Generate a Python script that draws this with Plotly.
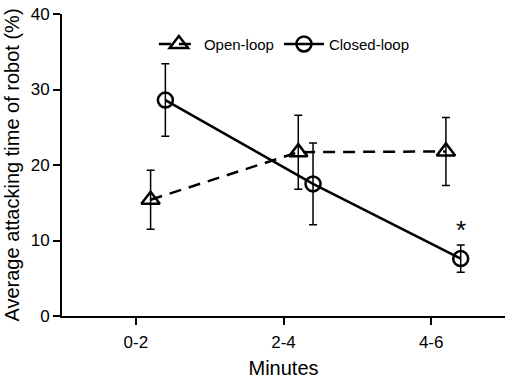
import plotly.graph_objects as go

categories = ["0-2", "2-4", "4-6"]
open_loop = [15.4, 21.7, 21.8]
open_err = [3.9, 4.9, 4.5]
closed_loop = [28.6, 17.5, 7.6]
closed_err = [4.8, 5.4, 1.8]
open_offset = 0.1
closed_offset = 0.2

xo = [i + open_offset for i in range(len(categories))]
xc = [i + closed_offset for i in range(len(categories))]

fig = go.Figure()
fig.add_trace(go.Scatter(
    x=xo, y=open_loop, name="Open-loop", mode="lines+markers",
    line=dict(color="black", width=2.5, dash="12px,8px"),
    marker=dict(symbol="triangle-up-open", size=16, color="black", line=dict(width=2.5)),
    error_y=dict(type="data", array=open_err, color="black", thickness=1.5, width=4),
))
fig.add_trace(go.Scatter(
    x=xc, y=closed_loop, name="Closed-loop", mode="lines+markers",
    line=dict(color="black", width=2.5),
    marker=dict(symbol="circle-open", size=15, color="black", line=dict(width=2.5)),
    error_y=dict(type="data", array=closed_err, color="black", thickness=1.5, width=4),
))
fig.add_annotation(x=xc[2], y=closed_loop[2] + closed_err[2] + 2.0, text="*", showarrow=False,
                   font=dict(size=26, color="black"))

fig.update_layout(
    width=510, height=381,
    margin=dict(l=62, r=5, t=12, b=65),
    plot_bgcolor="white", paper_bgcolor="white",
    font=dict(family="Liberation Sans, Arial", size=17, color="black"),
    showlegend=True,
    legend=dict(orientation="h", x=0.502, xanchor="center", y=0.90, yanchor="middle",
                font=dict(size=15), bgcolor="rgba(0,0,0,0)", itemwidth=40),
)
fig.update_xaxes(
    range=[-0.5, 2.5], tickmode="array", tickvals=list(range(len(categories))), ticktext=categories,
    showline=True, linecolor="black", linewidth=2, ticks="outside", ticklen=7, tickwidth=2,
    tickcolor="black", showgrid=False, zeroline=False, ticklabelstandoff=3,
    title=dict(text="Minutes", standoff=10),
)
fig.update_yaxes(
    range=[0, 40], tickvals=[0, 10, 20, 30, 40],
    showline=True, linecolor="black", linewidth=2, ticks="outside", ticklen=7, tickwidth=2,
    tickcolor="black", showgrid=False, zeroline=False,
    title=dict(text="Average attacking time of robot (%)", standoff=6),
)
fig.write_html("out.html", config={"displayModeBar": False},
               post_script="document.body.style.margin='0';document.body.style.overflow='hidden';")
